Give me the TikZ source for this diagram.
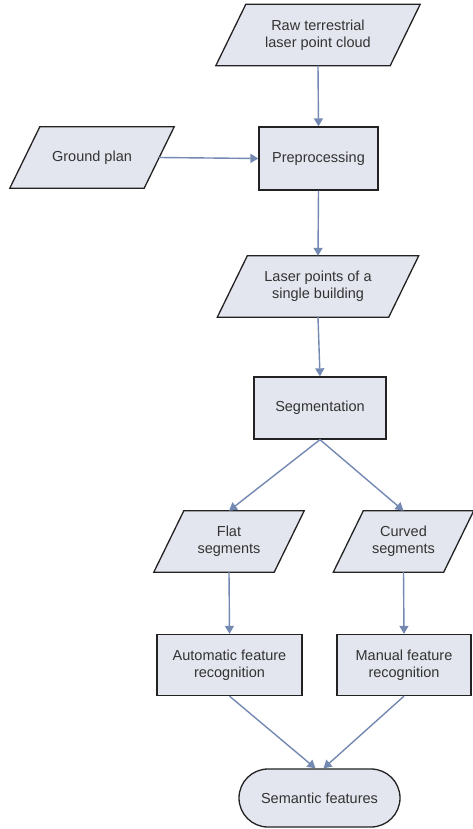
\documentclass[tikz,border=0pt]{standalone}
\usepackage{fontspec}
\setmainfont{Liberation Sans}
\usetikzlibrary{arrows.meta,backgrounds}

\definecolor{boxfill}{HTML}{E4E6EF}
\definecolor{boxline}{HTML}{222222}
\definecolor{flowline}{HTML}{7389B2}
\definecolor{labeltext}{HTML}{333333}

\tikzset{
  base/.style={align=center, font=\fontsize{14.5}{17}\selectfont, text=labeltext, inner sep=0pt},
  procbox/.style={base, draw=boxline, fill=boxfill, line width=1.3pt,
    minimum width=#1, minimum height=62pt},
  iobox/.style={base, minimum width=#1, minimum height=61pt},
  ioshape/.style={draw=boxline, fill=boxfill, line width=1.3pt, line join=miter},
  flow/.style={draw=flowline, line width=1.4pt, -{Triangle[width=9pt,length=8pt]}},
  terminal/.style={base, draw=boxline, fill=boxfill, line width=1.3pt,
    rounded corners=29pt, minimum width=161pt, minimum height=58pt}
}

\begin{document}
\begin{tikzpicture}[x=1pt, y=-1pt]
  \useasboundingbox (0,0) rectangle (473,829);

  % data (parallelogram) and process (box) nodes
  \node[iobox=174pt] (raw) at (318,35) {Raw terrestrial\\laser point cloud};
  \node[iobox=134pt] (ground) at (92,157.5) {Ground plan};
  \node[procbox=119pt, minimum height=63pt] (pre) at (318.5,158.5) {Preprocessing};
  \node[iobox=171pt] (laser) at (318,286.5) {Laser points of a\\single building};
  \node[procbox=132pt] (seg) at (320,408) {Segmentation};
  \node[iobox=120pt] (flat) at (229,541.5) {Flat\\segments};
  \node[iobox=110pt] (curved) at (403.5,541.5) {Curved\\segments};
  \node[procbox=145pt, minimum height=61pt] (auto) at (229.5,665) {Automatic feature\\recognition};
  \node[procbox=134pt, minimum height=61pt] (manual) at (404,665) {Manual feature\\recognition};
  \node[terminal] (sem) at (319.5,798) {Semantic features};

  % slanted outlines behind the data nodes
  \begin{pgfonlayer}{background}
    \foreach \n in {raw,ground,laser,flat,curved}
      \draw[ioshape] ([xshift=15pt]\n.north west) -- ([xshift=15pt]\n.north east)
        -- ([xshift=-15pt]\n.south east) -- ([xshift=-15pt]\n.south west) -- cycle;
  \end{pgfonlayer}

  % connectors
  \draw[flow] (raw.south) -- (pre.north);
  \draw[flow] (ground.east) -- (pre.west);
  \draw[flow] (pre.south) -- (laser.north);
  \draw[flow] (laser.south) -- (seg.north);
  \draw[flow] (seg.south) -- (flat.north);
  \draw[flow] (seg.south) -- (curved.north);
  \draw[flow] (flat.south) -- (auto.north);
  \draw[flow] (curved.south) -- (manual.north);
  \draw[flow] (auto.south) -- ([xshift=-4pt]sem.north);
  \draw[flow] (manual.south) -- ([xshift=4pt]sem.north);
\end{tikzpicture}
\end{document}
